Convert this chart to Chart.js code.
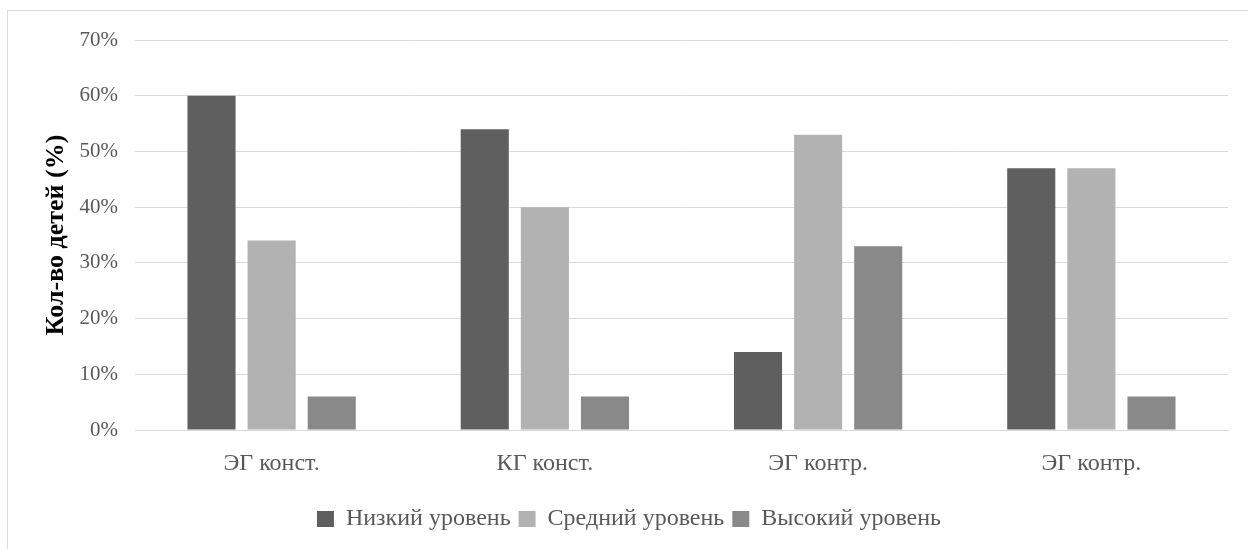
<!DOCTYPE html>
<html>
<head>
<meta charset="utf-8">
<script src="https://cdn.jsdelivr.net/npm/chart.js@4"></script>
<style>
html,body{margin:0;padding:0;background:#fff;}
#wrap{width:1248px;height:549px;position:relative;}
</style>
</head>
<body>
<div id="wrap"><canvas id="c" width="1248" height="549"></canvas></div>
<script>
const categories = ["ЭГ конст.", "КГ конст.", "ЭГ контр.", "ЭГ контр."];
const seriesNames = ["Низкий уровень", "Средний уровень", "Высокий уровень"];
const lowValues = [60, 54, 14, 47];
const midValues = [34, 40, 53, 47];
const highValues = [6, 6, 33, 6];
const yTicks = [0, 10, 20, 30, 40, 50, 60, 70];
const colors = ["#5f5f5f", "#b2b2b2", "#898989"];

const FONT = "'Liberation Serif', 'Times New Roman', serif";

const borderPlugin = {
  id: 'outerBorder',
  afterDraw(chart) {
    const ctx = chart.ctx;
    ctx.save();
    ctx.strokeStyle = '#d9d9d9';
    ctx.lineWidth = 1;
    ctx.strokeRect(7.5, 10.5, 1400, 700);
    ctx.restore();
  }
};

new Chart(document.getElementById('c'), {
  type: 'bar',
  data: {
    labels: categories,
    datasets: [
      {label: seriesNames[0], data: lowValues, backgroundColor: colors[0]},
      {label: seriesNames[1], data: midValues, backgroundColor: colors[1]},
      {label: seriesNames[2], data: highValues, backgroundColor: colors[2]}
    ]
  },
  options: {
    responsive: false,
    animation: false,
    devicePixelRatio: 1,
    layout: {padding: {left: 30, top: 40, right: 20, bottom: 8}},
    datasets: {bar: {categoryPercentage: 0.66, barPercentage: 0.8}},
    plugins: {
      tooltip: {enabled: false},
      legend: {
        position: 'bottom',
        labels: {
          font: {family: FONT, size: 24},
          color: '#595959',
          boxWidth: 17,
          boxHeight: 16,
          padding: 8
        }
      }
    },
    scales: {
      x: {
        grid: {display: false, drawTicks: false},
        border: {display: true, color: '#d9d9d9', width: 1},
        ticks: {font: {family: FONT, size: 24}, color: '#595959', padding: 19},
        afterFit(s) { s.height = 69; }
      },
      y: {
        min: 0, max: 70,
        afterBuildTicks(s) { s.ticks = yTicks.map(v => ({value: v})); },
        grid: {color: '#d9d9d9', lineWidth: 1, drawTicks: false},
        border: {display: false},
        ticks: {
          font: {family: FONT, size: 21}, color: '#595959', padding: 17,
          callback: v => v + '%'
        },
        title: {
          display: true, text: 'Кол-во детей (%)',
          font: {family: FONT, size: 26, weight: 'bold'}, color: '#000',
          padding: {top: 11, bottom: 0}
        },
        afterFit(s) { s.width = 105; }
      }
    }
  },
  plugins: [borderPlugin]
});
</script>
</body>
</html>
